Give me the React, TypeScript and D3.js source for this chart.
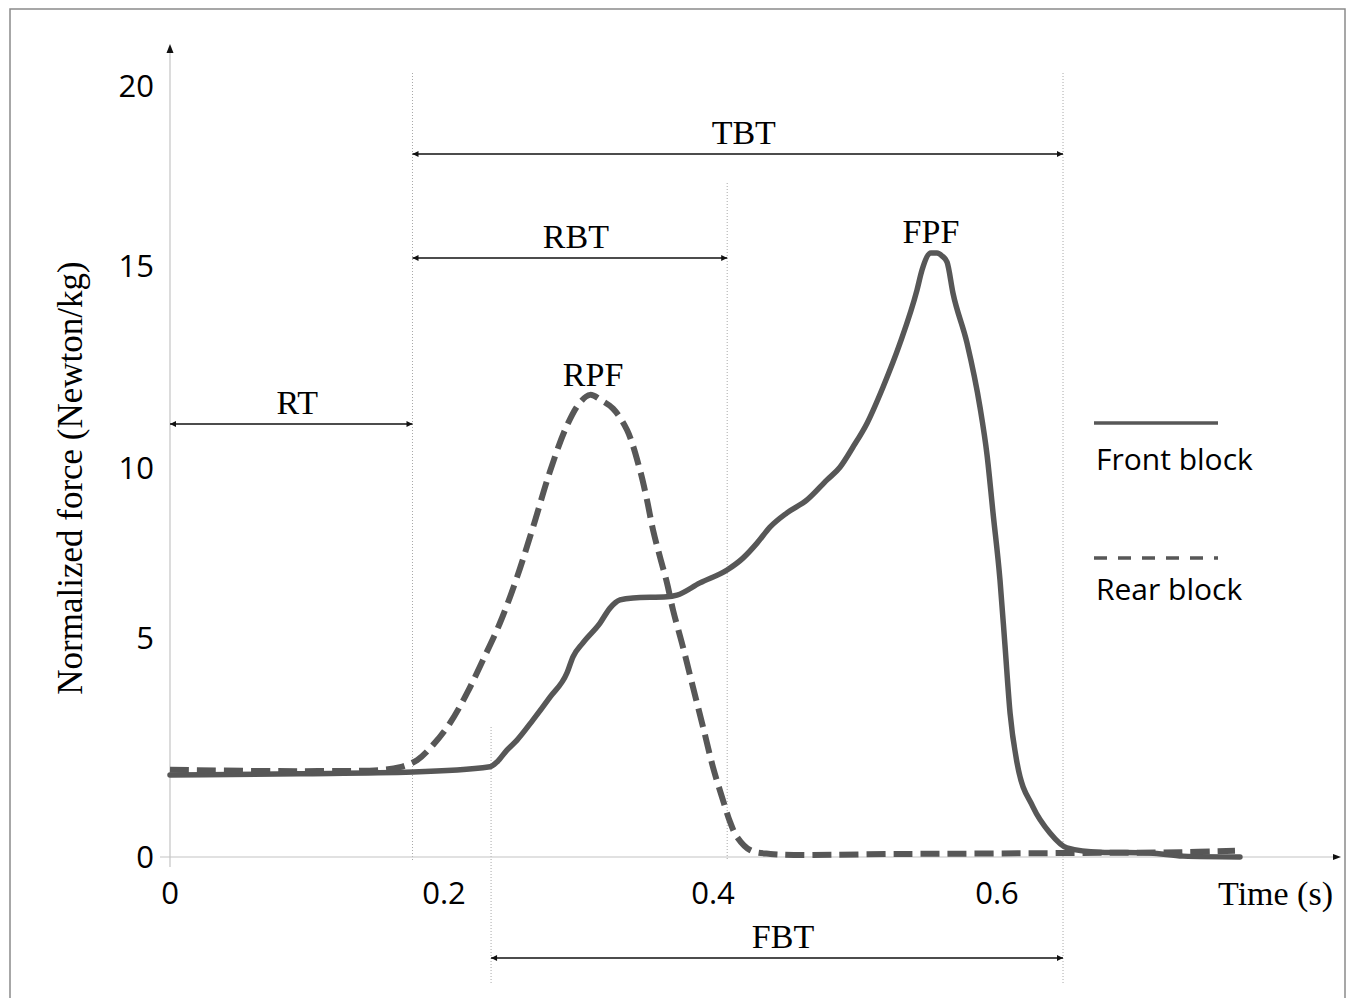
import React from "react";
import * as d3 from "d3";

// ---- data ----
const timeTicks = [0, 0.2, 0.4, 0.6];
const forceTicks = [0, 5, 10, 15, 20];

const frontTime = [0, 0.0949, 0.1774, 0.2342, 0.2394, 0.2468, 0.2543, 0.2662, 0.2788, 0.2914, 0.2959, 0.3033, 0.316, 0.3234, 0.3309, 0.3405, 0.3658, 0.3732, 0.3903, 0.4099, 0.4211, 0.431, 0.4401, 0.4521, 0.4662, 0.4803, 0.4894, 0.4986, 0.5085, 0.5197, 0.5317, 0.5437, 0.5472, 0.5535, 0.5577, 0.5613, 0.5648, 0.569, 0.5789, 0.588, 0.593, 0.5972, 0.6021, 0.6056, 0.6092, 0.6141, 0.6254, 0.6373, 0.6493, 0.6725, 0.7077, 0.731, 0.7711];
const frontForce = [1.87, 1.9, 1.94, 2.06, 2.17, 2.44, 2.67, 3.13, 3.65, 4.2, 4.57, 4.89, 5.44, 5.88, 6.12, 6.18, 6.21, 6.26, 6.62, 7.0, 7.35, 7.79, 8.26, 8.68, 9.06, 9.65, 10.02, 10.52, 11.11, 12.0, 13.09, 14.41, 14.9, 15.36, 15.36, 15.28, 15.11, 14.33, 13.09, 11.51, 10.32, 8.68, 6.71, 4.84, 3.29, 2.15, 1.14, 0.55, 0.21, 0.11, 0.09, 0.02, 0.0];

const rearTime = [0, 0.0949, 0.1555, 0.1679, 0.1803, 0.192, 0.2045, 0.2171, 0.229, 0.2416, 0.2543, 0.2662, 0.2788, 0.2914, 0.3011, 0.3086, 0.3182, 0.3257, 0.3361, 0.3457, 0.3509, 0.3554, 0.3606, 0.3658, 0.3703, 0.3777, 0.3851, 0.3926, 0.4, 0.407, 0.412, 0.4169, 0.4261, 0.4404, 0.5317, 0.6465, 0.7289, 0.7676];
const rearForce = [1.99, 1.96, 1.99, 2.05, 2.21, 2.56, 3.06, 3.74, 4.5, 5.44, 6.79, 8.26, 9.9, 11.05, 11.62, 11.81, 11.65, 11.47, 10.94, 9.94, 9.06, 8.18, 7.38, 6.62, 5.82, 4.79, 3.88, 2.97, 2.05, 1.3, 0.8, 0.46, 0.16, 0.07, 0.07, 0.09, 0.11, 0.14];

// event times (s)
const reactionEnd = 0.177;
const frontOn = 0.235;
const rearOff = 0.41;
const frontOff = 0.6465;

const intervalLabels = ["TBT", "RBT", "RT", "FBT"];
const intervalStarts = [reactionEnd, reactionEnd, 0, frontOn];
const intervalEnds = [frontOff, rearOff, reactionEnd, frontOff];

const seriesNames = ["Front block", "Rear block"];
const peakLabels = ["FPF", "RPF"];

// ---- layout ----
const W = 1351;
const H = 998;
const intervalRowY = [154, 258, 424, 958];
const guideTops = [73, 183, 727, 73];
const guideBottoms = [860, 860, 983, 983];

const serif = "'Liberation Serif', 'Times New Roman', serif";
const sans = "'Open Sans', 'Noto Sans', sans-serif";
const curveColor = "#575757";
const axisColor = "#c4c4c4";

export default function App() {
  const x = d3.scaleLinear().domain(timeTicks).range([170, 444, 713, 997]);
  const y = d3.scaleLinear().domain(forceTicks).range([857, 638, 468, 266, 86]);

  const frontLine = d3
    .line<[number, number]>()
    .x((d) => x(d[0]))
    .y((d) => y(d[1]))
    .curve(d3.curveMonotoneX);
  const rearLine = d3
    .line<[number, number]>()
    .x((d) => x(d[0]))
    .y((d) => y(d[1]))
    .curve(d3.curveCatmullRom.alpha(0.5));

  const front: [number, number][] = frontTime.map((t, i) => [t, frontForce[i]]);
  const rear: [number, number][] = rearTime.map((t, i) => [t, rearForce[i]]);

  const frontPeakIdx = d3.maxIndex(frontForce);
  const rearPeakIdx = d3.maxIndex(rearForce);

  const guides = [reactionEnd, rearOff, frontOn, frontOff];
  const x0 = x(0);
  const yZero = y(0);

  return (
    <svg
      width={W}
      height={H}
      style={{ position: "absolute", left: 0, top: 0, background: "#fff" }}
    >
      <defs>
        <marker id="ah" viewBox="0 0 10 10" refX="10" refY="5" markerWidth="7" markerHeight="6" markerUnits="userSpaceOnUse" orient="auto-start-reverse">
          <path d="M0,0 L10,5 L0,10 z" fill="#111" />
        </marker>
      </defs>
      <rect x={10} y={9} width={1335} height={1000} fill="#fff" stroke="#8a8a8a" strokeWidth={1.5} />

      {/* guide lines */}
      {guides.map((t, i) => (
        <line key={"g" + i} x1={x(t)} x2={x(t)} y1={guideTops[i]} y2={guideBottoms[i]} stroke="#a8a8a8" strokeWidth={1} strokeDasharray="1,2" />
      ))}

      {/* axes */}
      <line x1={x0} x2={x0} y1={867} y2={50} stroke={axisColor} strokeWidth={1.2} />
      <path d={`M${x0 - 3.5},53 L${x0},44 L${x0 + 3.5},53 z`} fill="#111" />
      <line x1={160} x2={1335} y1={yZero} y2={yZero} stroke={axisColor} strokeWidth={1.2} />
      <path d={`M1333,${yZero - 3} L1341,${yZero} L1333,${yZero + 3} z`} fill="#111" />

      {/* tick labels */}
      {timeTicks.map((t) => (
        <text key={"xt" + t} x={x(t)} y={904} textAnchor="middle" fontFamily={sans} fontSize={31} fill="#000">
          {t === 0 ? "0" : t.toFixed(1)}
        </text>
      ))}
      {forceTicks.map((v) => (
        <text key={"yt" + v} x={154} y={y(v) + 11} textAnchor="end" fontFamily={sans} fontSize={31} fill="#000">
          {v}
        </text>
      ))}

      {/* axis titles */}
      <text transform={`translate(82,478) rotate(-90)`} textAnchor="middle" fontFamily={serif} fontSize={35} fill="#000">
        Normalized force (Newton/kg)
      </text>
      <text x={1333} y={905} textAnchor="end" fontFamily={serif} fontSize={34} fill="#000">
        Time (s)
      </text>

      {/* curves */}
      <path d={frontLine(front) || ""} fill="none" stroke={curveColor} strokeWidth={5.5} strokeLinejoin="round" strokeLinecap="round" />
      <path d={rearLine(rear) || ""} fill="none" stroke={curveColor} strokeWidth={6} strokeDasharray="19,8" strokeLinejoin="round" />

      {/* interval arrows */}
      {intervalLabels.map((lab, i) => {
        const a = x(intervalStarts[i]);
        const b = x(intervalEnds[i]);
        const ry = intervalRowY[i];
        return (
          <g key={"iv" + lab}>
            <line x1={a} x2={b} y1={ry} y2={ry} stroke="#111" strokeWidth={1.6} markerStart="url(#ah)" markerEnd="url(#ah)" />
            <text x={(a + b) / 2 + 6} y={ry - 10} textAnchor="middle" fontFamily={serif} fontSize={34} fill="#000">
              {lab}
            </text>
          </g>
        );
      })}

      {/* peak labels */}
      <text x={x(frontTime[frontPeakIdx])} y={y(frontForce[frontPeakIdx]) - 10} textAnchor="middle" fontFamily={serif} fontSize={34} fill="#000">
        {peakLabels[0]}
      </text>
      <text x={x(rearTime[rearPeakIdx]) + 3} y={y(rearForce[rearPeakIdx]) - 9} textAnchor="middle" fontFamily={serif} fontSize={34} fill="#000">
        {peakLabels[1]}
      </text>

      {/* legend */}
      <line x1={1094} x2={1218} y1={423} y2={423} stroke={curveColor} strokeWidth={3.5} />
      <text x={1096} y={470} fontFamily={sans} fontSize={30} fill="#000">
        {seriesNames[0]}
      </text>
      <line x1={1094} x2={1218} y1={558} y2={558} stroke={curveColor} strokeWidth={3.5} strokeDasharray="13,11" />
      <text x={1096} y={600} fontFamily={sans} fontSize={30} fill="#000">
        {seriesNames[1]}
      </text>
    </svg>
  );
}
